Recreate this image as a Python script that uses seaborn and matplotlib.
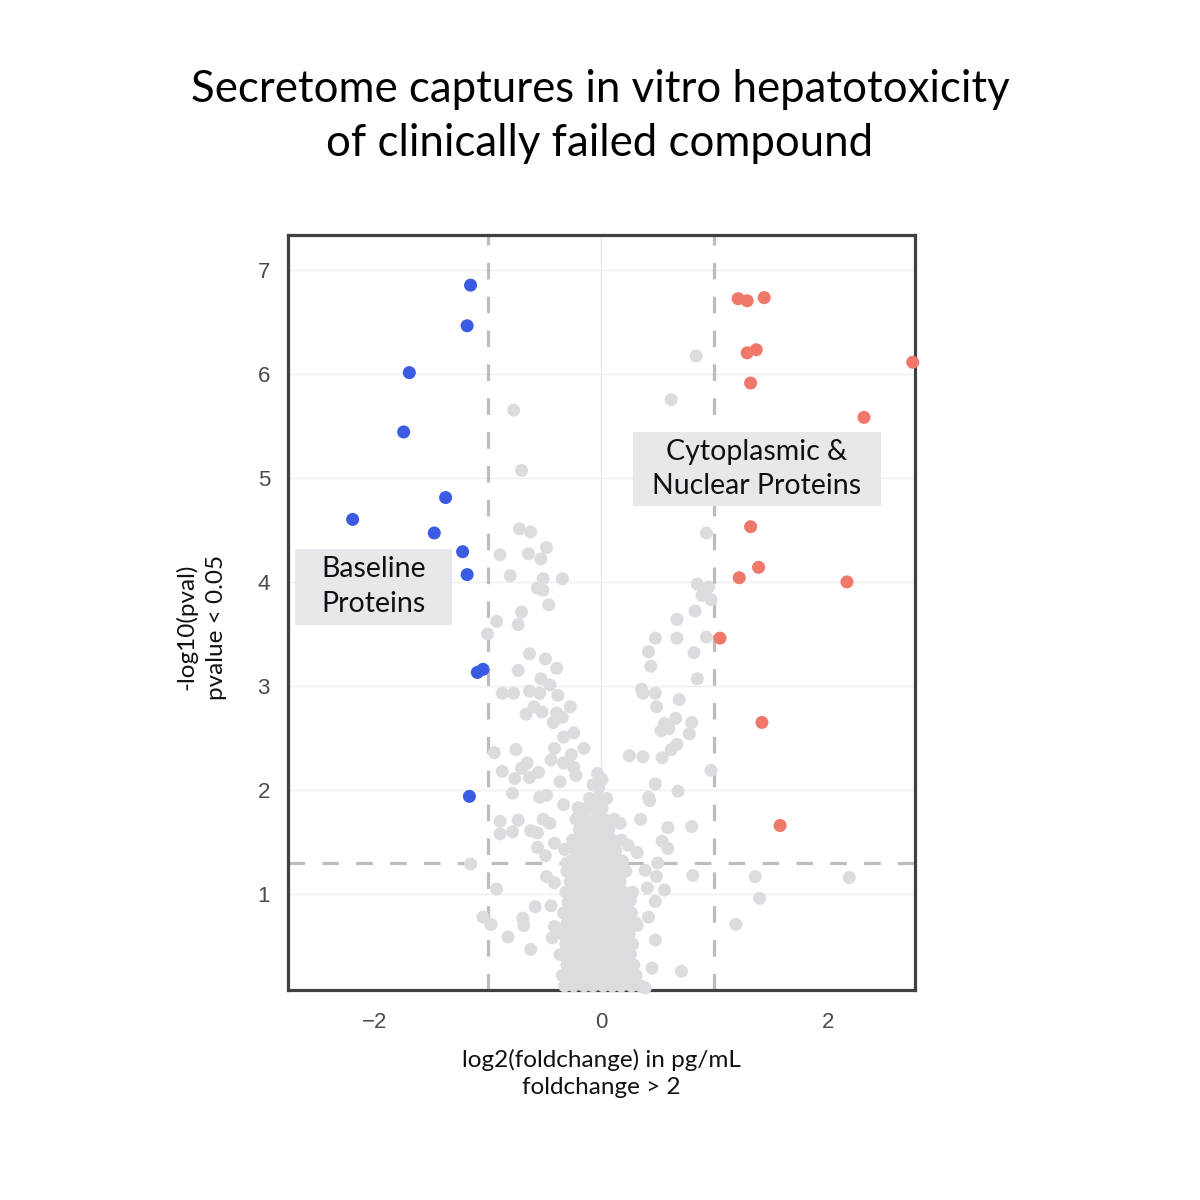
import pandas as pd
import seaborn as sns
import matplotlib.pyplot as plt
from matplotlib.patches import Rectangle

# log2 fold change / -log10 p-value
baseline_pts = [
    (-1.15, 6.85), (-1.18, 6.46), (-1.69, 6.01), (-1.74, 5.44), (-1.37, 4.81),
    (-2.19, 4.60), (-1.47, 4.47), (-1.22, 4.29), (-1.18, 4.07), (-1.09, 3.13),
    (-1.04, 3.16), (-1.16, 1.94),
]

cyto_pts = [
    (1.21, 6.72), (1.29, 6.70), (1.44, 6.73), (1.29, 6.20), (1.37, 6.23),
    (1.32, 5.91), (2.75, 6.11), (2.32, 5.58), (1.32, 4.53), (1.22, 4.04),
    (1.39, 4.14), (2.17, 4.00), (1.05, 3.46), (1.42, 2.65), (1.58, 1.66),
]

# non-significant proteins, upper / scattered part
ns_pts = [
    (0.84, 6.17), (0.62, 5.75), (-0.77, 5.65), (-0.70, 5.07), (0.93, 4.47),
    (-0.72, 4.51), (-0.62, 4.48), (-0.48, 4.33), (-0.89, 4.26), (-0.64, 4.27),
    (-0.53, 4.22), (-0.80, 4.06), (-0.51, 4.03), (-0.34, 4.03), (-0.56, 3.94),
    (-0.51, 3.92), (-0.46, 3.78), (-0.70, 3.71), (-0.92, 3.62), (-0.73, 3.59),
    (-1.00, 3.50), (-0.63, 3.31), (-0.49, 3.26), (-0.73, 3.15), (-0.39, 3.17),
    (-0.53, 3.07), (-0.45, 3.01), (-0.87, 2.93), (-0.77, 2.93), (-0.63, 2.95),
    (-0.54, 2.93), (-0.38, 2.91), (-0.59, 2.80), (-0.66, 2.73), (-0.52, 2.75),
    (-0.39, 2.74), (-0.27, 2.80), (-0.42, 2.65), (-0.34, 2.70), (-0.33, 2.51),
    (-0.24, 2.55), (-0.94, 2.36), (-0.75, 2.39), (-0.41, 2.40), (-0.15, 2.40),
    (-0.26, 2.34), (-0.44, 2.29), (-0.33, 2.26), (-0.65, 2.26), (-0.70, 2.21),
    (-0.87, 2.18), (-0.55, 2.17), (-0.24, 2.22), (-0.22, 2.14), (-0.76, 2.11),
    (-0.63, 2.12), (-0.36, 2.08), (-0.03, 2.16), (0.01, 2.10), (-0.07, 2.05),
    (-0.78, 1.97), (-0.54, 1.93), (-0.48, 1.95),
    (0.85, 3.98), (0.95, 3.95), (0.89, 3.87), (0.97, 3.83), (0.83, 3.72),
    (0.67, 3.64), (0.48, 3.46), (0.67, 3.46), (0.93, 3.47), (0.42, 3.33),
    (0.82, 3.32), (0.44, 3.19), (0.85, 3.07), (0.36, 2.97), (0.37, 2.93),
    (0.48, 2.93), (0.49, 2.80), (0.69, 2.87), (0.66, 2.69), (0.80, 2.65),
    (0.56, 2.64), (0.53, 2.57), (0.60, 2.59), (0.78, 2.54), (0.67, 2.44),
    (0.62, 2.39), (0.25, 2.33), (0.37, 2.32), (0.54, 2.31), (0.97, 2.19),
    (0.48, 2.06), (0.68, 1.99), (0.42, 1.93),
    (-0.33, 1.86), (-0.20, 1.83), (-0.19, 1.76), (-0.89, 1.70), (-0.73, 1.71),
    (-0.51, 1.72), (-0.45, 1.68), (-0.10, 1.68), (-0.89, 1.58), (-0.78, 1.60),
    (-0.62, 1.61), (-0.56, 1.59), (-0.41, 1.49), (-0.32, 1.43), (-0.56, 1.45),
    (-0.49, 1.37), (-1.15, 1.29), (-0.48, 1.17), (-0.41, 1.11), (-0.92, 1.05),
    (-0.58, 0.88), (-0.44, 0.89), (-1.04, 0.78), (-0.97, 0.71), (-0.69, 0.77),
    (-0.68, 0.70), (-0.41, 0.69), (-0.82, 0.59), (-0.43, 0.58), (-0.62, 0.47),
    (-0.36, 0.42), (-0.30, 1.30), (-0.23, 1.20), (-0.27, 0.97),
    (0.43, 1.90), (0.35, 1.72), (0.17, 1.68), (0.59, 1.64), (0.80, 1.65),
    (0.54, 1.51), (0.59, 1.44), (0.32, 1.40), (0.24, 1.47), (0.50, 1.30),
    (0.39, 1.23), (0.81, 1.18), (0.49, 1.17), (0.41, 1.06), (0.56, 1.04),
    (0.48, 0.93), (0.26, 0.94), (0.42, 0.78), (0.32, 0.70), (0.48, 0.56),
    (0.21, 0.50), (0.45, 0.29), (0.71, 0.26), (0.39, 0.10),
    (1.36, 1.17), (2.19, 1.16), (1.40, 0.96), (1.19, 0.71),
]

# the dense core around zero
ns_core = [
    (-0.32, 0.12), (-0.24, 0.12), (-0.15, 0.12), (-0.07, 0.12), (0.02, 0.12),
    (0.10, 0.12), (0.18, 0.12), (0.27, 0.12), (0.35, 0.12),
    (-0.34, 0.22), (-0.26, 0.22), (-0.18, 0.22), (-0.09, 0.22), (-0.01, 0.22),
    (0.08, 0.22), (0.16, 0.22), (0.24, 0.22), (0.31, 0.22),
    (-0.30, 0.32), (-0.21, 0.32), (-0.13, 0.32), (-0.04, 0.32), (0.05, 0.32),
    (0.13, 0.32), (0.21, 0.32), (0.29, 0.32),
    (-0.33, 0.42), (-0.25, 0.42), (-0.16, 0.42), (-0.08, 0.42), (0.01, 0.42),
    (0.09, 0.42), (0.18, 0.42), (0.26, 0.42),
    (-0.31, 0.52), (-0.22, 0.52), (-0.14, 0.52), (-0.05, 0.52), (0.04, 0.52),
    (0.12, 0.52), (0.20, 0.52), (0.28, 0.52),
    (-0.34, 0.62), (-0.26, 0.62), (-0.17, 0.62), (-0.09, 0.62), (0.00, 0.62),
    (0.08, 0.62), (0.17, 0.62), (0.25, 0.62),
    (-0.30, 0.72), (-0.21, 0.72), (-0.12, 0.72), (-0.03, 0.72), (0.06, 0.72),
    (0.14, 0.72), (0.23, 0.72), (0.31, 0.72),
    (-0.33, 0.82), (-0.24, 0.82), (-0.16, 0.82), (-0.07, 0.82), (0.02, 0.82),
    (0.11, 0.82), (0.19, 0.82), (0.27, 0.82),
    (-0.29, 0.92), (-0.20, 0.92), (-0.11, 0.92), (-0.02, 0.92), (0.07, 0.92),
    (0.15, 0.92), (0.24, 0.92),
    (-0.31, 1.02), (-0.23, 1.02), (-0.14, 1.02), (-0.05, 1.02), (0.03, 1.02),
    (0.12, 1.02), (0.20, 1.02), (0.28, 1.02),
    (-0.27, 1.12), (-0.18, 1.12), (-0.09, 1.12), (0.00, 1.12), (0.08, 1.12),
    (0.17, 1.12),
    (-0.30, 1.22), (-0.21, 1.22), (-0.12, 1.22), (-0.03, 1.22), (0.05, 1.22),
    (0.14, 1.22), (0.22, 1.22),
    (-0.26, 1.32), (-0.17, 1.32), (-0.08, 1.32), (0.01, 1.32), (0.10, 1.32),
    (0.19, 1.32),
    (-0.22, 1.42), (-0.13, 1.42), (-0.04, 1.42), (0.04, 1.42), (0.13, 1.42),
    (-0.25, 1.52), (-0.16, 1.52), (-0.07, 1.52), (0.02, 1.52), (0.10, 1.52),
    (0.18, 1.52),
    (-0.19, 1.62), (-0.10, 1.62), (-0.01, 1.62), (0.07, 1.62),
    (-0.22, 1.72), (-0.13, 1.72), (-0.04, 1.72), (0.03, 1.72), (0.12, 1.72),
    (-0.15, 1.82), (-0.06, 1.82), (0.01, 1.82),
    (-0.10, 1.92), (-0.01, 1.92), (0.05, 1.92),
    (-0.02, 2.02), (-0.01, 2.12),
]

fc_cut = 1.0
p_cut = 1.301  # -log10(0.05)

# label boxes: text, x0, x1, y0, y1 (data units)
labels = [
    ("Baseline\nProteins", -2.70, -1.31, 3.59, 4.32),
    ("Cytoplasmic &\nNuclear Proteins", 0.28, 2.47, 4.73, 5.44),
]


def build_df():
    rows = []
    for x, y in ns_pts + ns_core:
        rows.append({"log2fc": x, "nlogp": y, "group": "ns"})
    for x, y in baseline_pts:
        rows.append({"log2fc": x, "nlogp": y, "group": "baseline"})
    for x, y in cyto_pts:
        rows.append({"log2fc": x, "nlogp": y, "group": "cyto"})
    return pd.DataFrame(rows)


def plot(df):
    sns.set_style("white")
    plt.rcParams["font.family"] = ["Lato", "DejaVu Sans"]
    plt.rcParams["text.color"] = "#111111"
    plt.rcParams["axes.labelcolor"] = "#111111"

    fig = plt.figure(figsize=(12, 12), dpi=100)
    ax = fig.add_axes([0.24, 0.175, 0.5225, 0.629])

    # faint grid: horizontal at y ticks, vertical only at zero
    ax.grid(True, axis="y", color="#efefef", linewidth=1.0, zorder=0)
    ax.axvline(0, color="#e8e8e8", linewidth=1.0, zorder=0)
    ax.set_axisbelow(True)

    dash = dict(color="#bdbdbd", linewidth=2.3, dashes=(5.2, 5.4), zorder=1)
    ax.axvline(-fc_cut, **dash)
    ax.axvline(fc_cut, **dash)
    ax.axhline(p_cut, **dash)

    palette = {"ns": "#dddbdf", "baseline": "#3b5be3", "cyto": "#f0786b"}
    sns.scatterplot(data=df, x="log2fc", y="nlogp", hue="group", palette=palette,
                    s=88, linewidth=0, legend=False, ax=ax, zorder=3, clip_on=False)

    ax.set_xlim(-2.76, 2.77)
    ax.set_ylim(0.08, 7.33)
    ax.set_xticks([-2, 0, 2])
    ax.set_yticks([1, 2, 3, 4, 5, 6, 7])

    for side in ["left", "right", "top", "bottom"]:
        ax.spines[side].set_color("#404040")
        ax.spines[side].set_linewidth(2.3)
    ax.tick_params(axis="both", which="major", length=6, width=2.3, color="#404040",
                   labelsize=16, labelcolor="#4a4a4a")
    ax.tick_params(axis="x", pad=10)
    ax.tick_params(axis="y", pad=7)
    for lab in ax.get_xticklabels() + ax.get_yticklabels():
        lab.set_family(["Liberation Sans", "DejaVu Sans"])

    ax.set_xlabel("log2(foldchange) in pg/mL\nfoldchange > 2", fontsize=17.5,
                  linespacing=1.4, labelpad=11)
    ax.set_ylabel("-log10(pval)\npvalue < 0.05", fontsize=17.5, linespacing=1.5)
    ax.yaxis.set_label_coords(-0.097, 0.481)

    for text, x0, x1, y0, y1 in labels:
        ax.add_patch(Rectangle((x0, y0), x1 - x0, y1 - y0, facecolor="#e9e7eb",
                               edgecolor="none", zorder=4))
        ax.text((x0 + x1) / 2, (y0 + y1) / 2, text, ha="center", va="center",
                fontsize=20.5, linespacing=1.4, zorder=5)

    fig.text(0.5, 0.903, "Secretome captures in vitro hepatotoxicity\nof clinically failed compound",
             ha="center", va="center", fontsize=31.5, linespacing=1.4, color="black")

    plt.savefig("out.png", dpi=100)
    plt.close()


if __name__ == "__main__":
    plot(build_df())
